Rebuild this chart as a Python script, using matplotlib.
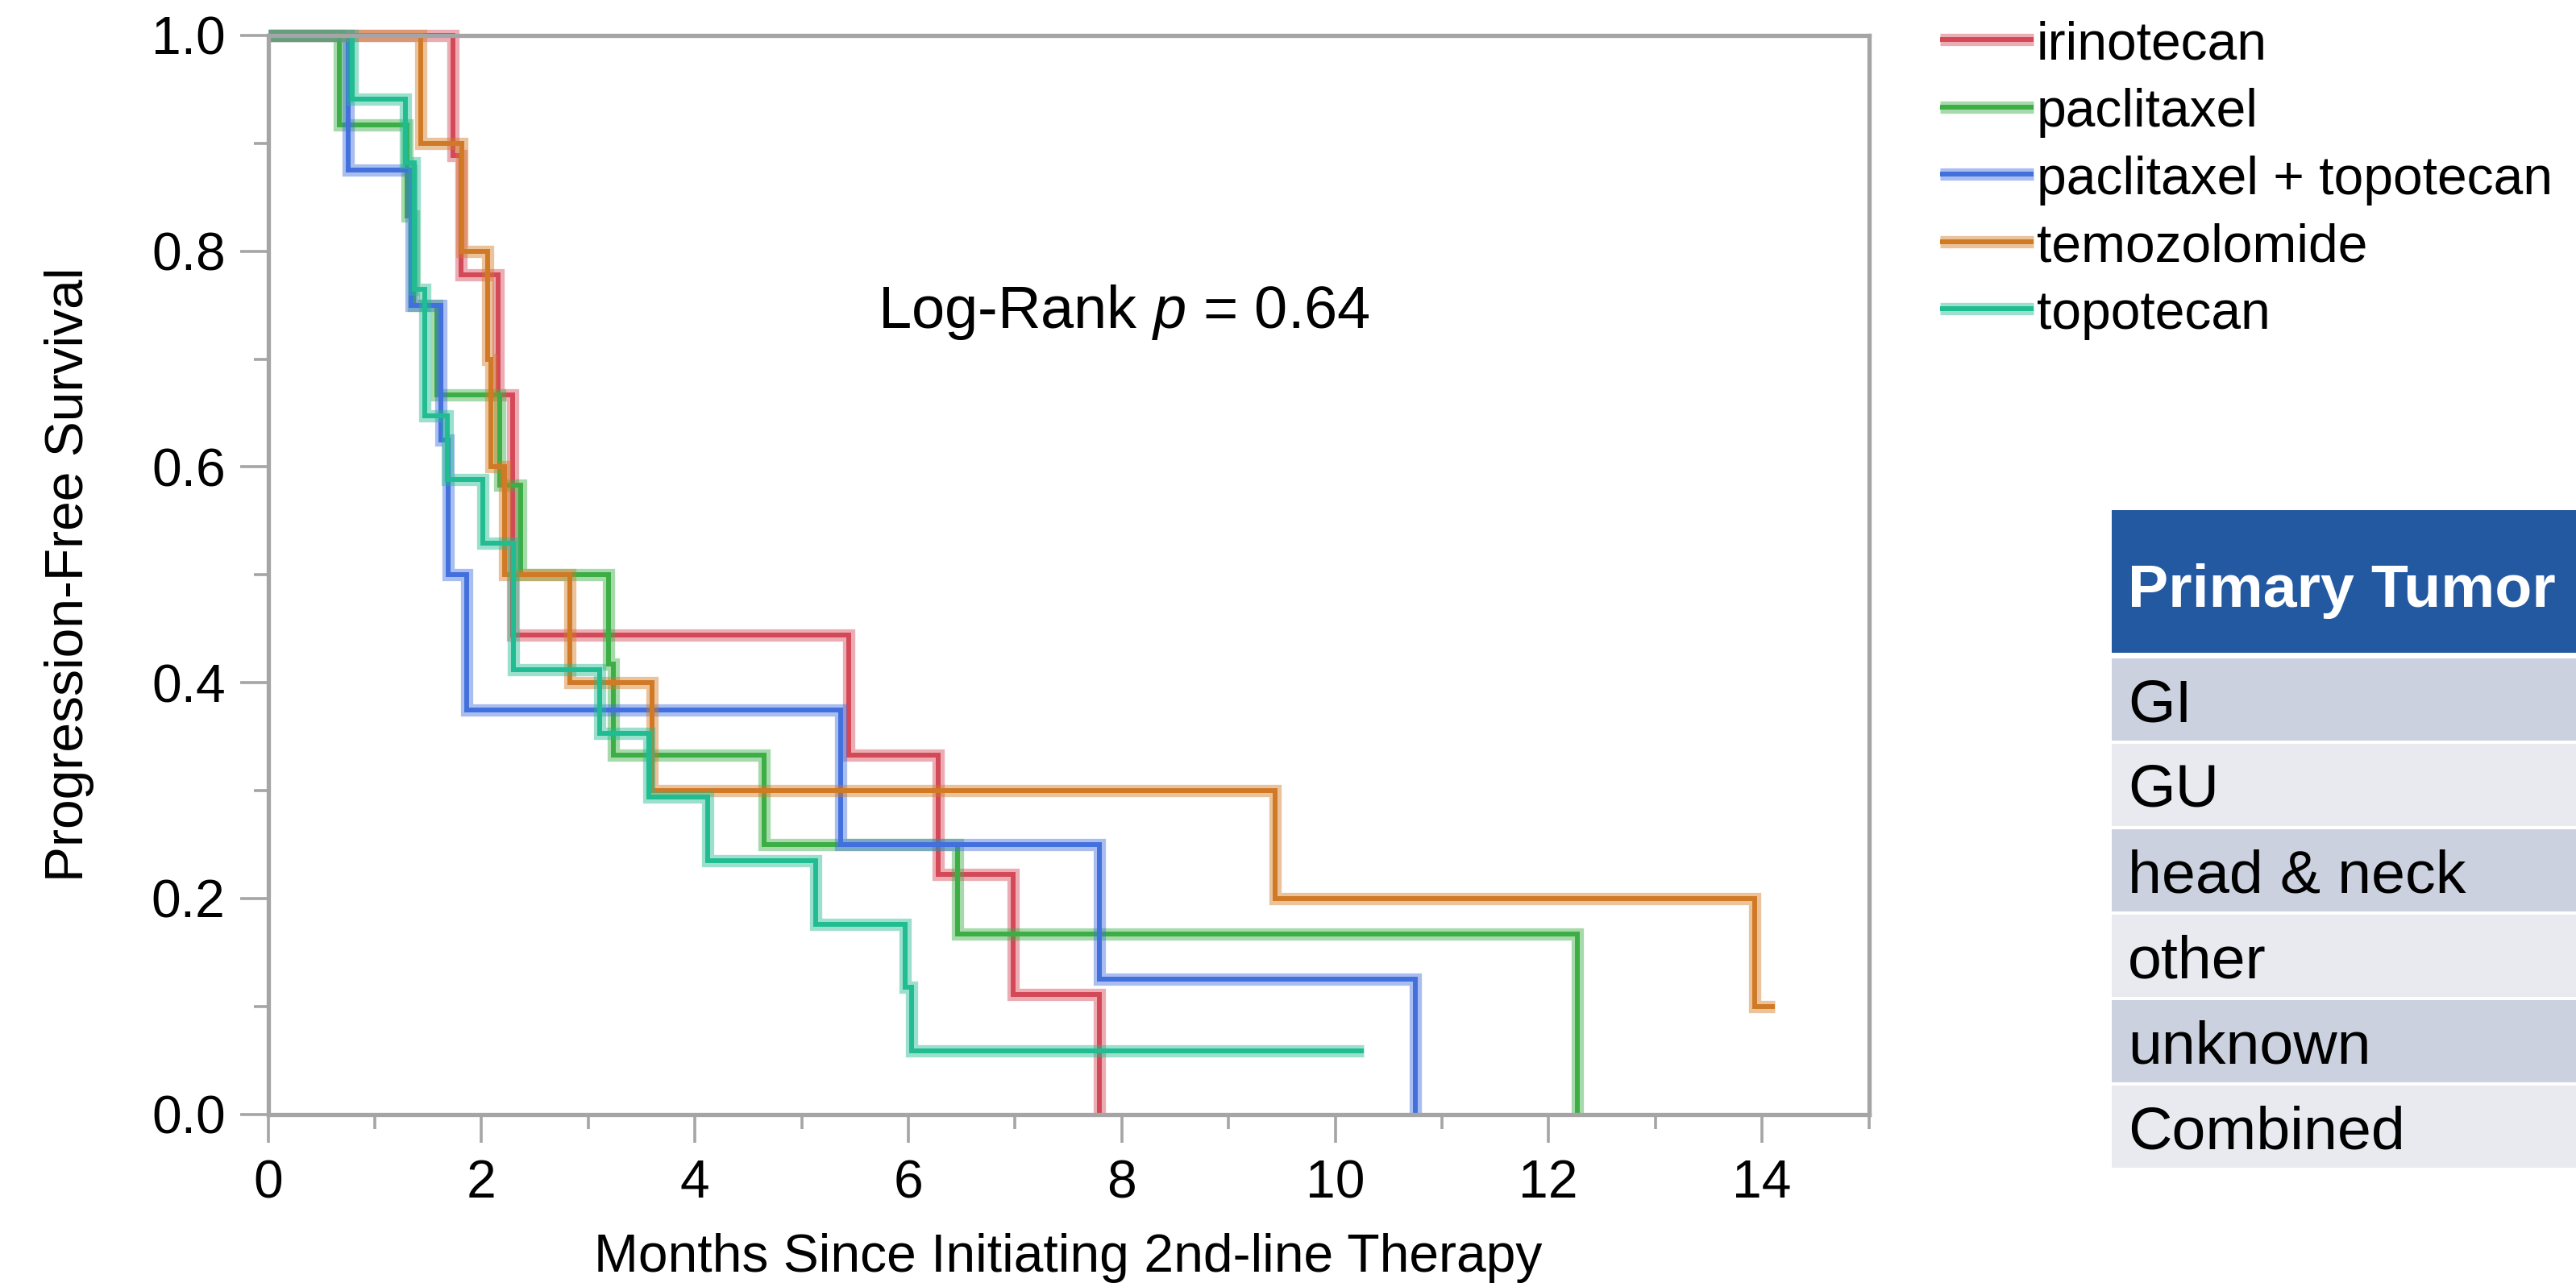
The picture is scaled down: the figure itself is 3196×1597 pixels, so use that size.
import matplotlib
matplotlib.use("Agg")  # headless
import matplotlib.pyplot as plt
from matplotlib.lines import Line2D
from matplotlib.patches import Rectangle
from matplotlib.ticker import MultipleLocator, FormatStrFormatter

plt.rcParams["font.family"] = ["Liberation Sans", "DejaVu Sans"]
plt.rcParams["mathtext.fontset"] = "custom"
plt.rcParams["mathtext.rm"] = "Liberation Sans"
plt.rcParams["mathtext.it"] = "Liberation Sans:italic"

W, H = 3196, 1597  # output size in px (dpi 100)

# ─── data ──────────────────────────────────────────────────────────────────────
groups = ["irinotecan", "paclitaxel", "paclitaxel + topotecan", "temozolomide", "topotecan"]
colors = ["#D44958", "#3DAE46", "#4270DD", "#D17A26", "#21BC91"]

irinotecan_t = [0, 1.73, 1.81, 2.16, 2.29, 5.44, 6.28, 6.98, 7.79]
irinotecan_s = [1.0, 0.889, 0.778, 0.667, 0.444, 0.333, 0.222, 0.111, 0.0]

paclitaxel_t = [0, 0.67, 1.30, 1.36, 1.58, 2.17, 2.37, 3.19, 3.24, 4.65, 6.46, 12.27]
paclitaxel_s = [1.0, 0.917, 0.833, 0.750, 0.667, 0.583, 0.500, 0.417, 0.333, 0.250, 0.167, 0.0]

pac_topo_t = [0, 0.75, 1.34, 1.62, 1.69, 1.86, 5.37, 7.79, 10.75]
pac_topo_s = [1.0, 0.875, 0.750, 0.625, 0.500, 0.375, 0.250, 0.125, 0.0]

temozolomide_t = [0, 1.43, 1.82, 2.06, 2.09, 2.22, 2.83, 3.60, 9.44, 13.93, 14.12]
temozolomide_s = [1.0, 0.9, 0.8, 0.7, 0.6, 0.5, 0.4, 0.3, 0.2, 0.1, 0.1]

topotecan_t = [0, 0.79, 1.29, 1.37, 1.47, 1.68, 2.01, 2.30, 3.11, 3.57, 4.12, 5.13, 5.97, 6.03, 10.27]
topotecan_s = [1.0, 0.941, 0.882, 0.765, 0.647, 0.588, 0.529, 0.412, 0.353, 0.294, 0.235, 0.176,
               0.118, 0.059, 0.059]

curves = [
    (irinotecan_t, irinotecan_s),
    (paclitaxel_t, paclitaxel_s),
    (pac_topo_t, pac_topo_s),
    (temozolomide_t, temozolomide_s),
    (topotecan_t, topotecan_s),
]

x_ticks = [0, 2, 4, 6, 8, 10, 12, 14]
y_ticks = [0.0, 0.2, 0.4, 0.6, 0.8, 1.0]
log_rank_text = "Log-Rank $p$ = 0.64"

table_header = "Primary Tumor"
tumor_rows = ["GI", "GU", "head & neck", "other", "unknown", "Combined"]

# ─── style ────────────────────────────────────────────────────────────────────
GRAY = "#A5A5A5"
FS = 47.5          # axis text
FS_TABLE = 54.3
BAND_LW, CORE_LW = 11.0, 4.3


def fx(px):
    return px / W


def fy(py):
    return 1 - py / H


fig = plt.figure(figsize=(W / 100, H / 100), dpi=100)
ax = fig.add_axes([fx(332.5), fy(1382.5), (2318.5 - 332.5) / W, (1382.5 - 44) / H])

for (t, s), c in zip(curves, colors):
    ax.step(t, s, where="post", color=c, lw=BAND_LW, alpha=0.45,
            solid_joinstyle="miter", solid_capstyle="butt", clip_on=False)
    ax.step(t, s, where="post", color=c, lw=CORE_LW,
            solid_joinstyle="miter", solid_capstyle="butt", clip_on=False)

ax.set_xlim(0, 15)
ax.set_ylim(0, 1)
ax.set_xticks(x_ticks)
ax.set_yticks(y_ticks)
ax.xaxis.set_minor_locator(MultipleLocator(1))
ax.yaxis.set_minor_locator(MultipleLocator(0.1))
ax.yaxis.set_major_formatter(FormatStrFormatter("%.1f"))

for sp in ax.spines.values():
    sp.set_color(GRAY)
    sp.set_linewidth(3.8)
    sp.set_zorder(3)
ax.tick_params(which="major", length=25, width=2.6, color=GRAY, labelsize=FS)
ax.tick_params(which="minor", length=13, width=2.6, color=GRAY)
ax.tick_params(axis="x", which="major", pad=15)
ax.tick_params(axis="y", which="major", pad=13)

ax.set_xlabel("Months Since Initiating 2nd-line Therapy", fontsize=FS)
ax.set_ylabel("Progression-Free Survival", fontsize=FS)
ax.xaxis.set_label_coords(0.5, (1382.5 - 1530) / 1338.5)
ax.yaxis.set_label_coords((117 - 332.5) / 1986, 0.5)

ax.text(5.71, 0.7286, log_rank_text, fontsize=53.3, ha="left", va="baseline")

# ─── legend (drawn by hand, outside the frame) ──────────────────────────────────
for i, (name, c) in enumerate(zip(groups, colors)):
    yc = 49.3 + i * 83.4
    fig.add_artist(Line2D([fx(2407), fx(2523)], [fy(yc), fy(yc)], transform=fig.transFigure,
                          color=c, lw=BAND_LW, alpha=0.45, solid_capstyle="butt"))
    fig.add_artist(Line2D([fx(2407), fx(2523)], [fy(yc), fy(yc)], transform=fig.transFigure,
                          color=c, lw=CORE_LW, solid_capstyle="butt"))
    fig.text(fx(2527), fy(74 + i * 83.4), name, fontsize=FS, va="baseline", ha="left")

# ─── table on the right ───────────────────────────────────────────────────────
fig.add_artist(Rectangle((fx(2620), fy(810)), (W - 2620) / W, (810 - 633) / H,
                         transform=fig.transFigure, facecolor="#2359A1", edgecolor="none"))
fig.text(fx(2640), fy(752.6), table_header, fontsize=FS_TABLE, fontweight="bold",
         color="white", va="baseline", ha="left")

for i, name in enumerate(tumor_rows):
    top = 817 + i * 106
    fc = "#CBD1DF" if i % 2 == 0 else "#E8EAF0"
    fig.add_artist(Rectangle((fx(2620), fy(top + 102)), (W - 2620) / W, 102 / H,
                             transform=fig.transFigure, facecolor=fc, edgecolor="none"))
    fig.text(fx(2640), fy(top + 51 + 27), name, fontsize=FS_TABLE, va="baseline", ha="left")

fig.savefig("out.png", dpi=100)
